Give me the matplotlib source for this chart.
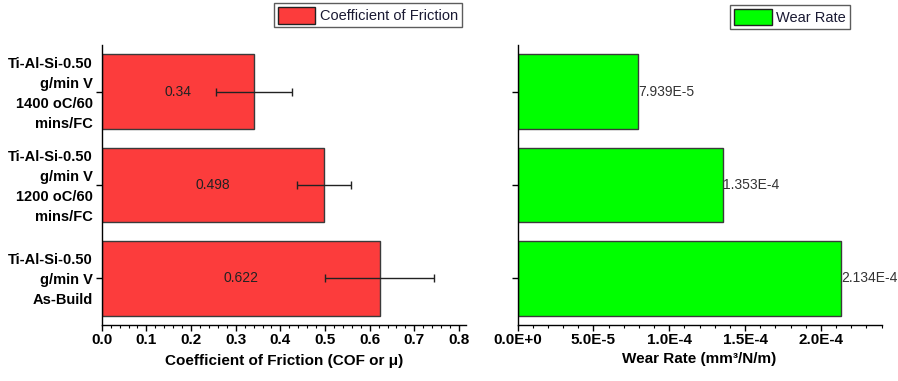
import matplotlib
matplotlib.use("Agg")
import matplotlib.pyplot as plt
import matplotlib.transforms as mtransforms
from matplotlib.ticker import MultipleLocator
from matplotlib.patches import Patch

plt.rcParams['font.family'] = ['Liberation Sans', 'DejaVu Sans']

categories = [
    "Ti-Al-Si-0.50\ng/min V\nAs-Build",
    "Ti-Al-Si-0.50\ng/min V\n1200 oC/60\nmins/FC",
    "Ti-Al-Si-0.50\ng/min V\n1400 oC/60\nmins/FC",
]
cof = [0.622, 0.498, 0.34]
cof_err = [0.121, 0.060, 0.085]
cof_labels = ["0.622", "0.498", "0.34"]
wear = [2.134e-4, 1.353e-4, 7.939e-5]
wear_labels = ["2.134E-4", "1.353E-4", "7.939E-5"]
cof_ticks = [0.0, 0.1, 0.2, 0.3, 0.4, 0.5, 0.6, 0.7, 0.8]
wear_ticks = [0.0, 5e-5, 1e-4, 1.5e-4, 2e-4]
wear_tick_labels = ["0.0E+0", "5.0E-5", "1.0E-4", "1.5E-4", "2.0E-4"]

red = "#FC3C3C"
green = "#00FF00"
edge = "#3a3a3a"

fig = plt.figure(figsize=(8.98, 3.81), dpi=100)
ax1 = fig.add_axes([0.1133, 0.147, 0.4053, 0.735])
ax2 = fig.add_axes([0.5763, 0.147, 0.4055, 0.735])

pos = list(range(len(categories)))

ax1.barh(pos, cof, height=0.8, color=red, edgecolor=edge, linewidth=1.0, zorder=2)
ax1.errorbar(cof, pos, xerr=cof_err, fmt='none', ecolor='#222222', elinewidth=1.0,
             capsize=3, capthick=1.0, zorder=3)
for p, v, t in zip(pos, cof, cof_labels):
    ax1.text(v / 2, p, t, ha='center', va='center', fontsize=10, color='#222222', zorder=4)

ax2.barh(pos, wear, height=0.8, color=green, edgecolor=edge, linewidth=1.0, zorder=2)
for p, v, t in zip(pos, wear, wear_labels):
    ax2.text(v, p, t, ha='left', va='center', fontsize=10, color='#333333', zorder=4)

for ax in (ax1, ax2):
    ax.set_ylim(-0.5, 2.5)
    ax.spines['top'].set_visible(False)
    ax.spines['right'].set_visible(False)
    ax.spines['left'].set_linewidth(1.0)
    ax.spines['bottom'].set_linewidth(1.0)
    ax.set_yticks(pos)
    ax.tick_params(axis='x', which='major', direction='out', length=4, width=1.0,
                   labelsize=11, pad=1.5)
    ax.tick_params(axis='x', which='minor', direction='out', length=2, width=0.8)
    ax.tick_params(axis='y', which='major', direction='out', length=4, width=1.0,
                   pad=2.5)

ax1.set_xlim(0, 0.815)
ax1.set_xticks(cof_ticks)
ax1.set_xticklabels([f"{t:.1f}" for t in cof_ticks], fontweight='bold')
ax1.xaxis.set_minor_locator(MultipleLocator(0.02))
ax1.set_yticklabels(categories, fontsize=10.5, fontweight='bold', linespacing=1.55,
                    ha='right', va='center')
shift = mtransforms.ScaledTranslation(0, -2 / 100, fig.dpi_scale_trans)
for lab in ax1.get_yticklabels():
    lab.set_transform(lab.get_transform() + shift)
ax1.set_xlabel("Coefficient of Friction (COF or \u03bc)", fontsize=11, fontweight='bold')
ax1.xaxis.set_label_coords(0.5, -0.103)

ax2.set_xlim(0, 2.4e-4)
ax2.set_xticks(wear_ticks)
ax2.set_xticklabels(wear_tick_labels, fontweight='bold')
ax2.xaxis.set_minor_locator(MultipleLocator(1e-5))
ax2.set_yticklabels([])
ax2.set_xlabel("Wear Rate (mm\u00b3/N/m)", fontsize=11, fontweight='bold')
ax2.xaxis.set_label_coords(0.5, -0.098)

leg_kw = dict(frameon=True, fancybox=False, edgecolor='#333333', fontsize=10.5,
              handlelength=2.6, handleheight=1.4, handletextpad=0.3,
              borderpad=0.25, borderaxespad=0.0)
leg1 = fig.legend(handles=[Patch(facecolor=red, edgecolor='#222222', linewidth=1.0,
                                 label="Coefficient of Friction")],
                  loc='upper right', bbox_to_anchor=(0.514, 0.992), **leg_kw)
leg2 = fig.legend(handles=[Patch(facecolor=green, edgecolor='#222222', linewidth=1.0,
                                 label="Wear Rate")],
                  loc='upper right', bbox_to_anchor=(0.946, 0.987), **leg_kw)
for leg in (leg1, leg2):
    leg.get_frame().set_linewidth(1.0)
    for t in leg.get_texts():
        t.set_color('#1a1a33')

fig.savefig("out.png", dpi=100)
